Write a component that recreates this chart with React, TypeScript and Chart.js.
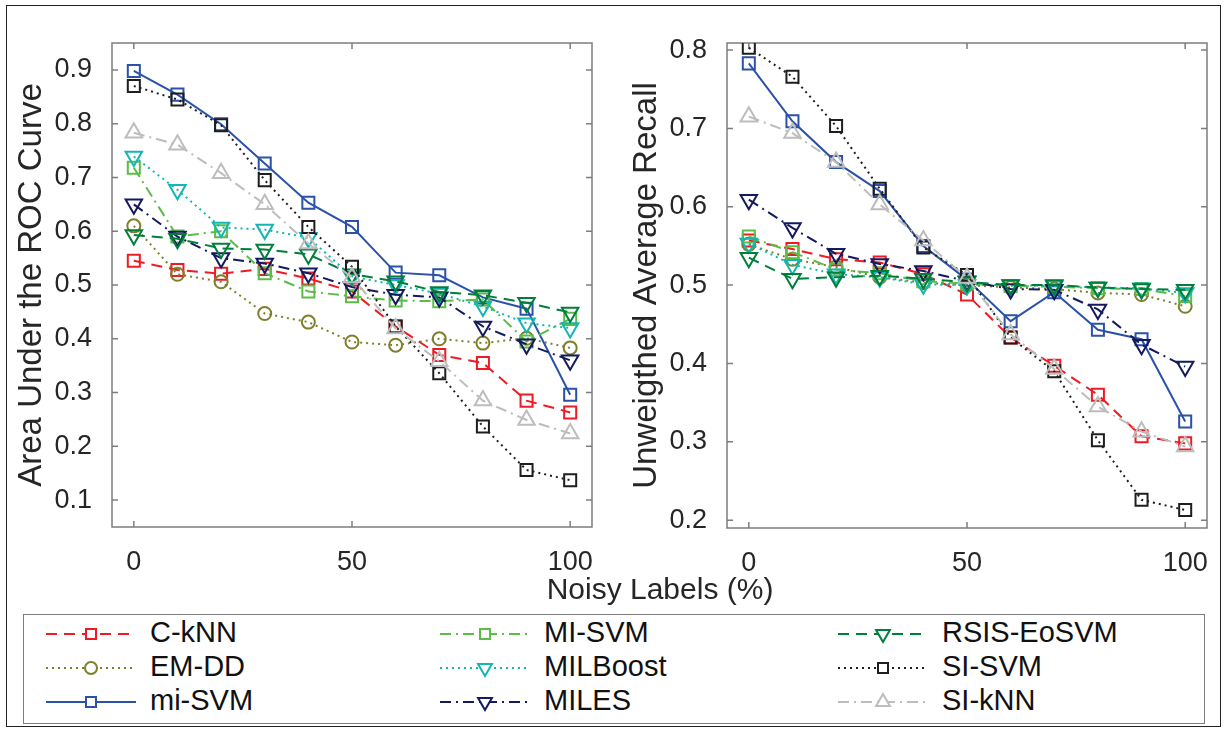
import React, { useEffect, useRef } from 'react';
import { Chart, registerables } from 'chart.js';

Chart.register(...registerables);

// Noise levels on the x axis (percent of flipped labels)
const noiseLevels = [0, 10, 20, 30, 40, 50, 60, 70, 80, 90, 100];
const xTickValues = [0, 50, 100];
const aucTickValues = [0.1, 0.2, 0.3, 0.4, 0.5, 0.6, 0.7, 0.8, 0.9];
const uarTickValues = [0.2, 0.3, 0.4, 0.5, 0.6, 0.7, 0.8];

const methodNames = ['C-kNN', 'EM-DD', 'mi-SVM', 'MI-SVM', 'MILBoost', 'MILES', 'RSIS-EoSVM', 'SI-SVM', 'SI-kNN'];

// Area under the ROC curve
const aucCkNN = [0.545, 0.528, 0.521, 0.53, 0.512, 0.488, 0.423, 0.37, 0.355, 0.285, 0.263];
const aucEMDD = [0.61, 0.52, 0.506, 0.447, 0.431, 0.394, 0.388, 0.4, 0.392, 0.401, 0.383];
const aucMiSVM = [0.898, 0.854, 0.799, 0.726, 0.653, 0.608, 0.523, 0.518, 0.477, 0.456, 0.296];
const aucMISVM = [0.718, 0.59, 0.6, 0.522, 0.488, 0.479, 0.471, 0.47, 0.473, 0.395, 0.437];
const aucMILBoost = [0.739, 0.677, 0.607, 0.603, 0.588, 0.516, 0.5, 0.484, 0.46, 0.429, 0.42];
const aucMILES = [0.65, 0.59, 0.55, 0.54, 0.522, 0.496, 0.482, 0.477, 0.423, 0.39, 0.36];
const aucRSIS = [0.593, 0.586, 0.568, 0.566, 0.557, 0.52, 0.507, 0.487, 0.481, 0.467, 0.449];
const aucSISVM = [0.87, 0.845, 0.797, 0.695, 0.608, 0.534, 0.423, 0.336, 0.237, 0.156, 0.137];
const aucSIkNN = [0.783, 0.761, 0.708, 0.65, 0.577, 0.514, 0.419, 0.358, 0.285, 0.249, 0.224];

// Unweighted average recall
const uarCkNN = [0.557, 0.546, 0.533, 0.529, 0.514, 0.488, 0.433, 0.397, 0.36, 0.307, 0.298];
const uarEMDD = [0.552, 0.533, 0.523, 0.51, 0.503, 0.5, 0.497, 0.495, 0.49, 0.488, 0.473];
const uarMiSVM = [0.783, 0.709, 0.657, 0.62, 0.55, 0.507, 0.454, 0.491, 0.443, 0.431, 0.326];
const uarMISVM = [0.562, 0.542, 0.52, 0.515, 0.505, 0.502, 0.499, 0.498, 0.496, 0.495, 0.486];
const uarMILBoost = [0.553, 0.526, 0.514, 0.51, 0.501, 0.5, 0.5, 0.499, 0.497, 0.496, 0.49];
const uarMILES = [0.609, 0.573, 0.54, 0.527, 0.518, 0.505, 0.495, 0.494, 0.469, 0.424, 0.396];
const uarRSIS = [0.535, 0.508, 0.51, 0.512, 0.508, 0.504, 0.5, 0.5, 0.497, 0.495, 0.494];
const uarSISVM = [0.803, 0.766, 0.703, 0.623, 0.548, 0.513, 0.433, 0.39, 0.302, 0.226, 0.213];
const uarSIkNN = [0.715, 0.694, 0.657, 0.603, 0.557, 0.509, 0.437, 0.393, 0.345, 0.313, 0.294];

const aucByMethod = [aucCkNN, aucEMDD, aucMiSVM, aucMISVM, aucMILBoost, aucMILES, aucRSIS, aucSISVM, aucSIkNN];
const uarByMethod = [uarCkNN, uarEMDD, uarMiSVM, uarMISVM, uarMILBoost, uarMILES, uarRSIS, uarSISVM, uarSIkNN];

type Marker = 'rect' | 'circle' | 'triangle';
interface SeriesStyle {
  color: string;
  dash: number[];
  marker: Marker;
  rotation: number;
}

const DASHED = [11, 7];
const DOTTED = [2, 4];
const DASHDOT = [11, 5, 2, 5];

const seriesStyles: SeriesStyle[] = [
  { color: '#ed1c24', dash: DASHED, marker: 'rect', rotation: 0 },
  { color: '#7f7f2a', dash: DOTTED, marker: 'circle', rotation: 0 },
  { color: '#2b52a8', dash: [], marker: 'rect', rotation: 0 },
  { color: '#5bbd47', dash: DASHDOT, marker: 'rect', rotation: 0 },
  { color: '#14b5b5', dash: DOTTED, marker: 'triangle', rotation: 180 },
  { color: '#131a5e', dash: DASHDOT, marker: 'triangle', rotation: 180 },
  { color: '#007f3b', dash: DASHED, marker: 'triangle', rotation: 180 },
  { color: '#1e1e1e', dash: DOTTED, marker: 'rect', rotation: 0 },
  { color: '#bdbdbd', dash: DASHDOT, marker: 'triangle', rotation: 0 },
];

const markerRadius: Record<Marker, number> = { rect: 8.5, circle: 6.5, triangle: 9.5 };

const FONT = '"Liberation Sans", Arial, Helvetica, sans-serif';
const AXIS_GRAY = '#7d7d7d';
const TEXT_DARK = '#262626';

// Boxed axes with inward tick marks on all four sides
const boxFramePlugin = {
  id: 'boxFrame',
  beforeDatasetsDraw(chart: any) {
    const { ctx, chartArea, scales } = chart;
    const { left, right, top, bottom } = chartArea;
    const len = 6;
    ctx.save();
    ctx.strokeStyle = AXIS_GRAY;
    ctx.lineWidth = 1.5;
    ctx.strokeRect(left, top, right - left, bottom - top);
    ctx.beginPath();
    scales.x.ticks.forEach((t: any) => {
      const px = scales.x.getPixelForValue(t.value);
      ctx.moveTo(px, bottom);
      ctx.lineTo(px, bottom - len);
      ctx.moveTo(px, top);
      ctx.lineTo(px, top + len);
    });
    scales.y.ticks.forEach((t: any) => {
      const py = scales.y.getPixelForValue(t.value);
      ctx.moveTo(left, py);
      ctx.lineTo(left + len, py);
      ctx.moveTo(right, py);
      ctx.lineTo(right - len, py);
    });
    ctx.stroke();
    ctx.restore();
  },
};

interface MetricChartProps {
  values: number[][];
  yMin: number;
  yMax: number;
  yTicks: number[];
  yTitle: string;
  left: number;
  width: number;
  plotTop: number;
  plotBottom: number;
}

const CANVAS_H = 600;
const Y_AXIS_W = 112;
const PLOT_W = 480;

function MetricChart({ values, yMin, yMax, yTicks, yTitle, left, width, plotTop, plotBottom }: MetricChartProps) {
  const ref = useRef<HTMLCanvasElement>(null);

  useEffect(() => {
    const canvas = ref.current;
    if (!canvas) return;
    const chart = new Chart(canvas, {
      type: 'line',
      data: {
        datasets: methodNames.map((name, i) => {
          const st = seriesStyles[i];
          return {
            label: name,
            data: noiseLevels.map((x, j) => ({ x, y: values[i][j] })),
            borderColor: st.color,
            borderWidth: 2,
            borderDash: st.dash,
            pointStyle: st.marker,
            pointRotation: st.rotation,
            pointRadius: markerRadius[st.marker],
            pointBorderWidth: 2,
            pointBorderColor: st.color,
            pointBackgroundColor: 'rgba(0,0,0,0)',
            fill: false,
            tension: 0,
            order: methodNames.length - i,
          };
        }),
      },
      options: {
        responsive: false,
        animation: false,
        devicePixelRatio: 1,
        layout: { padding: { top: plotTop, right: width - Y_AXIS_W - PLOT_W, left: 0, bottom: 0 } },
        plugins: { legend: { display: false }, tooltip: { enabled: false } },
        scales: {
          x: {
            type: 'linear',
            min: -5,
            max: 105,
            afterBuildTicks: (s: any) => {
              s.ticks = xTickValues.map((v) => ({ value: v }));
            },
            afterFit: (s: any) => {
              s.height = CANVAS_H - plotBottom;
            },
            grid: { display: false },
            border: { display: false },
            ticks: {
              font: { family: FONT, size: 27 },
              color: TEXT_DARK,
              padding: 11,
              maxRotation: 0,
              callback: (v: any) => String(v),
            },
          },
          y: {
            type: 'linear',
            min: yMin,
            max: yMax,
            afterBuildTicks: (s: any) => {
              s.ticks = yTicks.map((v) => ({ value: v }));
            },
            afterFit: (s: any) => {
              s.width = Y_AXIS_W;
            },
            grid: { display: false },
            border: { display: false },
            ticks: {
              font: { family: FONT, size: 27 },
              color: TEXT_DARK,
              padding: 12,
              callback: (v: any) => Number(v).toFixed(1),
            },
            title: {
              display: true,
              text: yTitle,
              font: { family: FONT, size: 33 },
              color: TEXT_DARK,
              padding: { top: 12, bottom: 0 },
            },
          },
        },
      },
      plugins: [boxFramePlugin],
    } as any);
    return () => chart.destroy();
  }, [values, yMin, yMax, yTicks, yTitle, width, plotTop, plotBottom]);

  return (
    <canvas
      ref={ref}
      width={width}
      height={CANVAS_H}
      style={{ position: 'absolute', left, top: 0, width, height: CANVAS_H }}
    />
  );
}

const SAMPLE_W = 90;

function LegendSample({ style }: { style: SeriesStyle }) {
  const w = SAMPLE_W;
  const h = 30;
  const cx = w / 2;
  const cy = h / 2;
  let marker: React.ReactNode = null;
  if (style.marker === 'rect') {
    marker = <rect x={cx - 5} y={cy - 5} width={10} height={10} fill="#fff" stroke={style.color} strokeWidth={2} />;
  } else if (style.marker === 'circle') {
    marker = <circle cx={cx} cy={cy} r={6} fill="#fff" stroke={style.color} strokeWidth={2} />;
  } else {
    const r = 8;
    const pts =
      style.rotation === 180
        ? `${cx},${cy + r} ${cx - r * 0.866},${cy - r / 2} ${cx + r * 0.866},${cy - r / 2}`
        : `${cx},${cy - r} ${cx - r * 0.866},${cy + r / 2} ${cx + r * 0.866},${cy + r / 2}`;
    marker = <polygon points={pts} fill="#fff" stroke={style.color} strokeWidth={2} />;
  }
  return (
    <svg width={w} height={h} style={{ position: 'absolute', left: 0, top: -h / 2 }}>
      <line
        x1={0}
        y1={cy}
        x2={w}
        y2={cy}
        stroke={style.color}
        strokeWidth={2}
        strokeDasharray={style.dash.length ? style.dash.join(' ') : undefined}
      />
      {marker}
    </svg>
  );
}

function Legend() {
  // left edge of each column's line sample, relative to the legend box
  const colLeft = [22, 416, 814];
  const rowCenter = [18, 52, 86];
  return (
    <div
      style={{
        position: 'absolute',
        left: 23,
        top: 614,
        width: 1182,
        height: 110,
        border: `1.5px solid ${AXIS_GRAY}`,
        boxSizing: 'border-box',
        background: '#fff',
      }}
    >
      {methodNames.map((name, i) => {
        const col = Math.floor(i / 3);
        const row = i % 3;
        return (
          <div key={name} style={{ position: 'absolute', left: colLeft[col], top: rowCenter[row] + 0.5 }}>
            <LegendSample style={seriesStyles[i]} />
            <div
              style={{
                position: 'absolute',
                left: SAMPLE_W + 14,
                top: -18,
                height: 36,
                lineHeight: '36px',
                font: `29px ${FONT}`,
                color: '#111',
                whiteSpace: 'nowrap',
              }}
            >
              {name}
            </div>
          </div>
        );
      })}
    </div>
  );
}

export default function App() {
  return (
    <div
      style={{
        position: 'fixed',
        left: 0,
        top: 0,
        width: 1227,
        height: 732,
        background: '#fff',
        overflow: 'hidden',
        fontFamily: FONT,
      }}
    >
      <MetricChart
        values={aucByMethod}
        yMin={0.05}
        yMax={0.95}
        yTicks={aucTickValues}
        yTitle="Area Under the ROC Curve"
        left={0}
        width={610}
        plotTop={43}
        plotBottom={527}
      />
      <MetricChart
        values={uarByMethod}
        yMin={0.19}
        yMax={0.809}
        yTicks={uarTickValues}
        yTitle="Unweigthed Average Recall"
        left={615}
        width={612}
        plotTop={43}
        plotBottom={528}
      />
      <div
        style={{
          position: 'absolute',
          left: 360,
          width: 600,
          top: 572,
          height: 36,
          lineHeight: '36px',
          textAlign: 'center',
          font: `30px ${FONT}`,
          color: TEXT_DARK,
        }}
      >
        Noisy Labels (%)
      </div>
      <Legend />
      <div
        style={{
          position: 'absolute',
          left: 6,
          top: 5,
          width: 1215,
          height: 722,
          border: '1px solid #222',
          boxSizing: 'border-box',
          pointerEvents: 'none',
        }}
      />
    </div>
  );
}
